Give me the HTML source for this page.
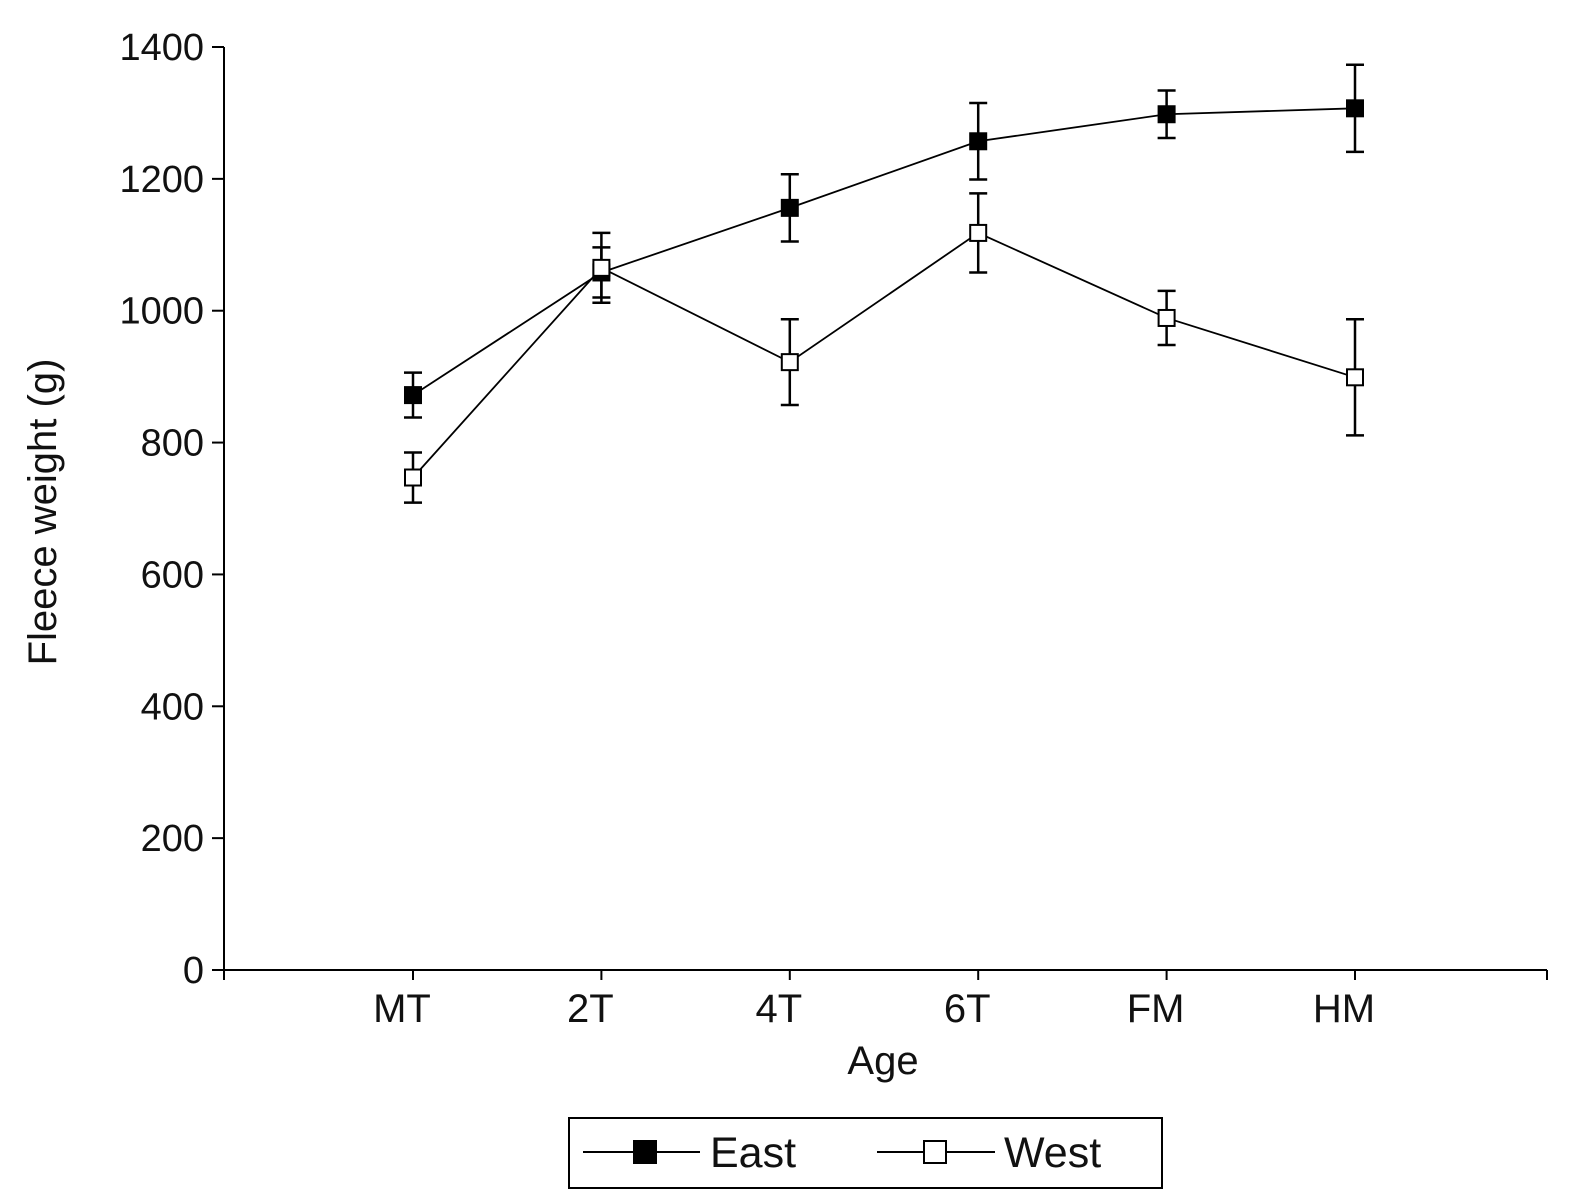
<!DOCTYPE html>
<html><head><meta charset="utf-8"><style>
body{margin:0;background:#fff}
svg{display:block;font-family:"Liberation Sans",Arial,sans-serif}
</style></head><body>
<svg id="chart" width="1571" height="1198" viewBox="0 0 1571 1198">
<g id="axes"></g>
<g id="series"></g>
<text x="883" y="1074" font-size="40" text-anchor="middle" fill="#111">Age</text>
<text transform="translate(56,512) rotate(-90)" font-size="40" text-anchor="middle" fill="#111">Fleece weight (g)</text>
<g>
<rect x="569" y="1118" width="593" height="70" fill="#fff" stroke="#000" stroke-width="2"/>
<g>
<line x1="583" y1="1152" x2="700" y2="1152" stroke="#000" stroke-width="2"/>
<rect x="633" y="1140" width="24" height="24" fill="#000"/>
<text x="710" y="1167" font-size="43" fill="#111">East</text></g>
<g>
<line x1="877" y1="1152" x2="995" y2="1152" stroke="#000" stroke-width="2"/>
<rect x="924" y="1141" width="22" height="22" fill="#fff" stroke="#000" stroke-width="2"/>
<text x="1004" y="1167" font-size="43" fill="#111">West</text></g>
</g>
</svg>
<script>
const categories=["MT","2T","4T","6T","FM","HM"];
const eastValues=[872,1058,1156,1257,1298,1307];
const eastErrors=[34,38,51,58,36,66];
const westValues=[747,1065,922,1118,989,899];
const westErrors=[38,53,65,60,41,88];
const yTicks=[0,200,400,600,800,1000,1200,1400];
const NS="http://www.w3.org/2000/svg";
const x0=224,x1=1547,yTop=47,yBot=970;
function yS(v){return yBot-(v/1400)*(yBot-yTop);}
function xS(i){return 413+i*188.4;}
function mk(tag,attrs,parent){const e=document.createElementNS(NS,tag);for(const k in attrs)e.setAttribute(k,attrs[k]);parent.appendChild(e);return e;}
const ax=document.getElementById('axes');
let l=mk('line',{x1:x0,y1:yTop,x2:x0,y2:yBot,stroke:'#000','stroke-width':2},ax);


l=mk('line',{x1:x0,y1:yBot,x2:x1,y2:yBot,stroke:'#000','stroke-width':2},ax);


mk('line',{x1:x1,y1:yBot,x2:x1,y2:yBot+10,stroke:'#000','stroke-width':2},ax);
mk('line',{x1:x0,y1:yBot,x2:x0,y2:yBot+10,stroke:'#000','stroke-width':2},ax);
yTicks.forEach(v=>{
 mk('line',{x1:x0-12,y1:yS(v),x2:x0,y2:yS(v),stroke:'#000','stroke-width':2},ax);
 const t=mk('text',{x:204,y:yS(v)+13,'font-size':38,'text-anchor':'end',fill:'#111'},ax);
 t.textContent=v;
 
 
});
categories.forEach((c,i)=>{
 mk('line',{x1:xS(i),y1:yBot,x2:xS(i),y2:yBot+10,stroke:'#000','stroke-width':2},ax);
 const t=mk('text',{x:xS(i)-11,y:1022,'font-size':40,'text-anchor':'middle',fill:'#111'},ax);
 t.textContent=c;
 
 
});
const sg=document.getElementById('series');
function drawSeries(vals,errs,filled,name){
 const g=mk('g',{},sg);
 
 
 mk('polyline',{points:vals.map((v,i)=>xS(i)+','+yS(v)).join(' '),fill:'none',stroke:'#000','stroke-width':1.8},g);
 vals.forEach((v,i)=>{
  const x=xS(i),a=yS(v+errs[i]),b=yS(v-errs[i]);
  mk('line',{x1:x,y1:a,x2:x,y2:b,stroke:'#000','stroke-width':2.5},g);
  mk('line',{x1:x-9,y1:a,x2:x+9,y2:a,stroke:'#000','stroke-width':2.5},g);
  mk('line',{x1:x-9,y1:b,x2:x+9,y2:b,stroke:'#000','stroke-width':2.5},g);
 });
 vals.forEach((v,i)=>{
  const r=mk('rect',{x:xS(i)-8,y:yS(v)-8,width:16,height:16,fill:filled?'#000':'#fff',stroke:'#000','stroke-width':2},g);
  
  
 });
}
drawSeries(eastValues,eastErrors,true,'east');
drawSeries(westValues,westErrors,false,'west');
</script>
</body></html>
